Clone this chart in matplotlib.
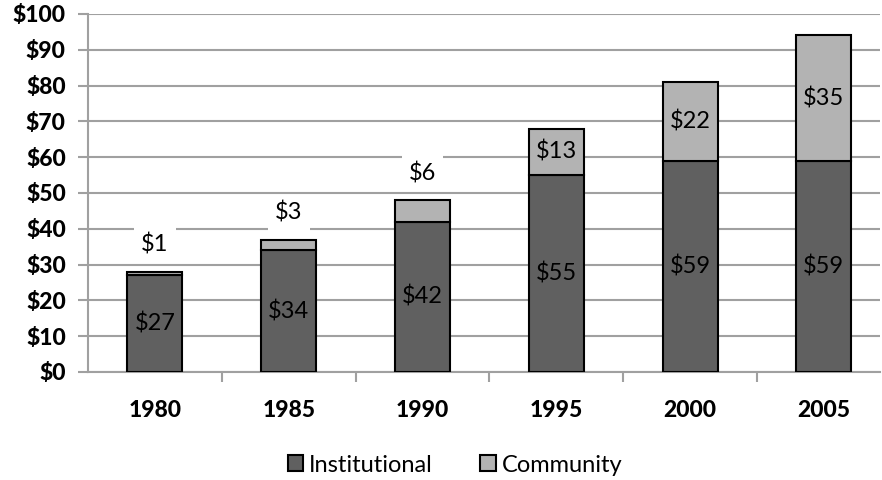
import matplotlib
matplotlib.use("Agg")
import matplotlib.pyplot as plt
import numpy as np

years = ["1980", "1985", "1990", "1995", "2000", "2005"]
institutional = [27, 34, 42, 55, 59, 59]
community = [1, 3, 6, 13, 22, 35]
y_ticks = [0, 10, 20, 30, 40, 50, 60, 70, 80, 90, 100]

plt.rcParams['font.family'] = ['Lato', 'DejaVu Sans']
tick_font = dict(weight='black', size=16.5)

fig = plt.figure(figsize=(8.82, 4.80), dpi=100)
ax = fig.add_axes([0.0998, 0.225, 0.898, 0.746])

x = np.arange(len(years))
w = 0.41
dark = "#606060"
light = "#B3B3B3"
grid = "#A0A0A0"
lab_fs = 17

b1 = ax.bar(x, institutional, w, color=dark, edgecolor="black", linewidth=1.5,
            label="Institutional", zorder=3)
b2 = ax.bar(x, community, w, bottom=institutional, color=light, edgecolor="black",
            linewidth=1.5, label="Community", zorder=3)

for xi, v in zip(x, institutional):
    ax.text(xi, v / 2, f"${v}", ha="center", va="center", fontsize=lab_fs, zorder=4)

for xi, base, v in zip(x, institutional, community):
    if v >= 10:
        ax.text(xi, base + v / 2, f"${v}", ha="center", va="center", fontsize=lab_fs, zorder=4)
    else:
        ax.text(xi, base + v + 7.5, f"${v}", ha="center", va="center", fontsize=lab_fs, zorder=4,
                bbox=dict(boxstyle="square,pad=0.3", facecolor="white", edgecolor="none"))

ax.set_ylim(0, 100)
ax.set_xlim(-0.5, 5.42)
ax.set_yticks(y_ticks)
ax.set_yticklabels([f"${t}" for t in y_ticks], **tick_font)
ax.yaxis.grid(True, color=grid, linewidth=1.5, zorder=0)
ax.set_axisbelow(True)

ax.set_xticks(x)
ax.set_xticklabels(years, **tick_font)
ax.tick_params(axis="x", length=0, pad=20)
ax.set_xticks(np.arange(len(years) - 1) + 0.5, minor=True)
ax.tick_params(axis="x", which="minor", length=7, width=1.5, color=grid)
ax.tick_params(axis="y", length=7, width=1.5, color=grid, pad=9)

for s in ["top", "right"]:
    ax.spines[s].set_visible(False)
for s in ["left", "bottom"]:
    ax.spines[s].set_color(grid)
    ax.spines[s].set_linewidth(1.5)

fig.legend(handles=[b1, b2], loc="center", bbox_to_anchor=(0.516, 0.031), ncol=2,
           frameon=False, fontsize=17, handlelength=0.65, handleheight=0.65,
           columnspacing=2.0, handletextpad=0.25)

fig.savefig("out.png", dpi=100)
